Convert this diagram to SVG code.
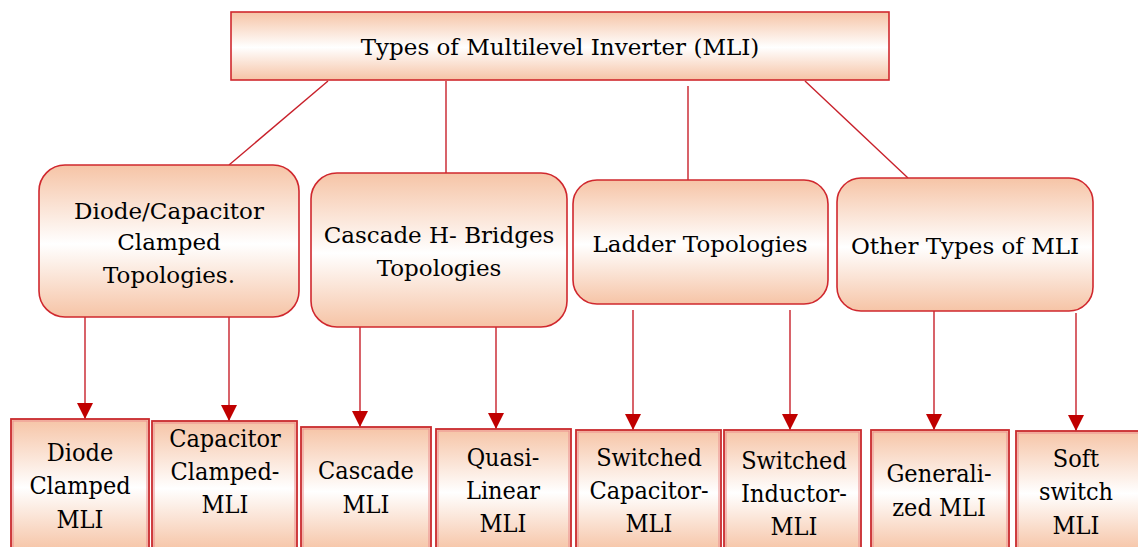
<svg xmlns="http://www.w3.org/2000/svg" width="1138" height="547" viewBox="0 0 1138 547">
  <defs>
    <linearGradient id="peach" x1="0" y1="0" x2="0" y2="1">
      <stop offset="0" stop-color="#f6c4a6"/>
      <stop offset="0.52" stop-color="#ffffff"/>
      <stop offset="1" stop-color="#f6c4a6"/>
    </linearGradient>
    <marker id="arrow" viewBox="0 0 16 16" refX="16" refY="8" markerWidth="16" markerHeight="16" markerUnits="userSpaceOnUse" orient="auto">
      <path d="M0,0 L16,8 L0,16 Z" fill="#c00000"/>
    </marker>
  </defs>
  <style>
    .box { fill: url(#peach); stroke: #d0282e; stroke-width: 1.6; }
    .leaf { fill: url(#peach); stroke: #c92a2e; stroke-width: 1.8; }
    .leaf-in { fill: none; stroke: #eb8f8f; stroke-width: 1; }
    .link { stroke: #c8202a; stroke-width: 1.4; fill: none; }
    .arr { stroke: #c8202a; stroke-width: 1.4; fill: none; marker-end: url(#arrow); }
    .lbl { font-family: "DejaVu Serif", serif; font-size: 23px; fill: #000; text-anchor: middle; }
    .sm { font-family: "DejaVu Serif Condensed", "DejaVu Serif", serif; font-stretch: condensed; font-size: 25px; }
  </style>

  <!-- connectors -->
  <g id="connectors">
    <line class="link" x1="328" y1="81" x2="229" y2="165"/>
    <line class="link" x1="446" y1="81" x2="446" y2="173"/>
    <line class="link" x1="688" y1="86" x2="688" y2="180"/>
    <line class="link" x1="805" y1="81" x2="908" y2="178"/>
    <line class="arr" x1="85" y1="317" x2="85" y2="419"/>
    <line class="arr" x1="229" y1="317" x2="229" y2="421"/>
    <line class="arr" x1="360" y1="327" x2="360" y2="427"/>
    <line class="arr" x1="496" y1="327" x2="496" y2="429"/>
    <line class="arr" x1="633" y1="310" x2="633" y2="430"/>
    <line class="arr" x1="790" y1="310" x2="790" y2="430"/>
    <line class="arr" x1="934" y1="311" x2="934" y2="430"/>
    <line class="arr" x1="1076" y1="313" x2="1076" y2="431"/>
  </g>

  <!-- root -->
  <g id="root">
    <rect class="box" x="231" y="12" width="658" height="68"/>
    <text class="lbl" x="560" y="55">Types of Multilevel Inverter (MLI)</text>
  </g>

  <!-- topology families -->
  <g id="diode-capacitor">
    <rect class="box" x="39" y="165" width="260" height="152" rx="26"/>
    <text class="lbl" x="169" y="219">Diode/Capacitor</text>
    <text class="lbl" x="169" y="250">Clamped</text>
    <text class="lbl" x="169" y="283">Topologies.</text>
  </g>
  <g id="cascade-h-bridges">
    <rect class="box" x="311" y="173" width="256" height="154" rx="26"/>
    <text class="lbl" x="439" y="243">Cascade H- Bridges</text>
    <text class="lbl" x="439" y="276">Topologies</text>
  </g>
  <g id="ladder">
    <rect class="box" x="573" y="180" width="255" height="124" rx="24"/>
    <text class="lbl" x="700" y="252">Ladder Topologies</text>
  </g>
  <g id="other-types">
    <rect class="box" x="837" y="178" width="256" height="133" rx="24"/>
    <text class="lbl" x="965" y="254">Other Types of MLI</text>
  </g>

  <!-- individual inverters: outer red frame with a thin light inner rule -->
  <g id="diode-clamped">
    <rect class="leaf" x="11" y="419" width="138" height="132"/>
    <rect class="leaf-in" x="13" y="421" width="134" height="128"/>
    <text class="lbl sm" x="80" y="461">Diode</text>
    <text class="lbl sm" x="80" y="494">Clamped</text>
    <text class="lbl sm" x="80" y="528">MLI</text>
  </g>
  <g id="capacitor-clamped">
    <rect class="leaf" x="152" y="421" width="145" height="130"/>
    <rect class="leaf-in" x="154" y="423" width="141" height="126"/>
    <text class="lbl sm" x="225" y="447">Capacitor</text>
    <text class="lbl sm" x="225" y="480">Clamped-</text>
    <text class="lbl sm" x="225" y="513">MLI</text>
  </g>
  <g id="cascade-mli">
    <rect class="leaf" x="301" y="427" width="130" height="124"/>
    <rect class="leaf-in" x="303" y="429" width="126" height="120"/>
    <text class="lbl sm" x="366" y="479">Cascade</text>
    <text class="lbl sm" x="366" y="513">MLI</text>
  </g>
  <g id="quasi-linear">
    <rect class="leaf" x="436" y="429" width="135" height="122"/>
    <rect class="leaf-in" x="438" y="431" width="131" height="118"/>
    <text class="lbl sm" x="503" y="466">Quasi-</text>
    <text class="lbl sm" x="503" y="499">Linear</text>
    <text class="lbl sm" x="503" y="532">MLI</text>
  </g>
  <g id="switched-capacitor">
    <rect class="leaf" x="576" y="430" width="145" height="121"/>
    <rect class="leaf-in" x="578" y="432" width="141" height="117"/>
    <text class="lbl sm" x="649" y="466">Switched</text>
    <text class="lbl sm" x="649" y="499">Capacitor-</text>
    <text class="lbl sm" x="649" y="532">MLI</text>
  </g>
  <g id="switched-inductor">
    <rect class="leaf" x="724" y="430" width="137" height="121"/>
    <rect class="leaf-in" x="726" y="432" width="133" height="117"/>
    <text class="lbl sm" x="794" y="469">Switched</text>
    <text class="lbl sm" x="794" y="502">Inductor-</text>
    <text class="lbl sm" x="794" y="535">MLI</text>
  </g>
  <g id="generalized">
    <rect class="leaf" x="871" y="430" width="138" height="121"/>
    <rect class="leaf-in" x="873" y="432" width="134" height="117"/>
    <text class="lbl sm" x="939" y="482">Generali-</text>
    <text class="lbl sm" x="939" y="516">zed MLI</text>
  </g>
  <g id="soft-switch">
    <rect class="leaf" x="1016" y="431" width="125" height="120"/>
    <rect class="leaf-in" x="1018" y="433" width="121" height="116"/>
    <text class="lbl sm" x="1076" y="467">Soft</text>
    <text class="lbl sm" x="1076" y="500">switch</text>
    <text class="lbl sm" x="1076" y="534">MLI</text>
  </g>
</svg>
